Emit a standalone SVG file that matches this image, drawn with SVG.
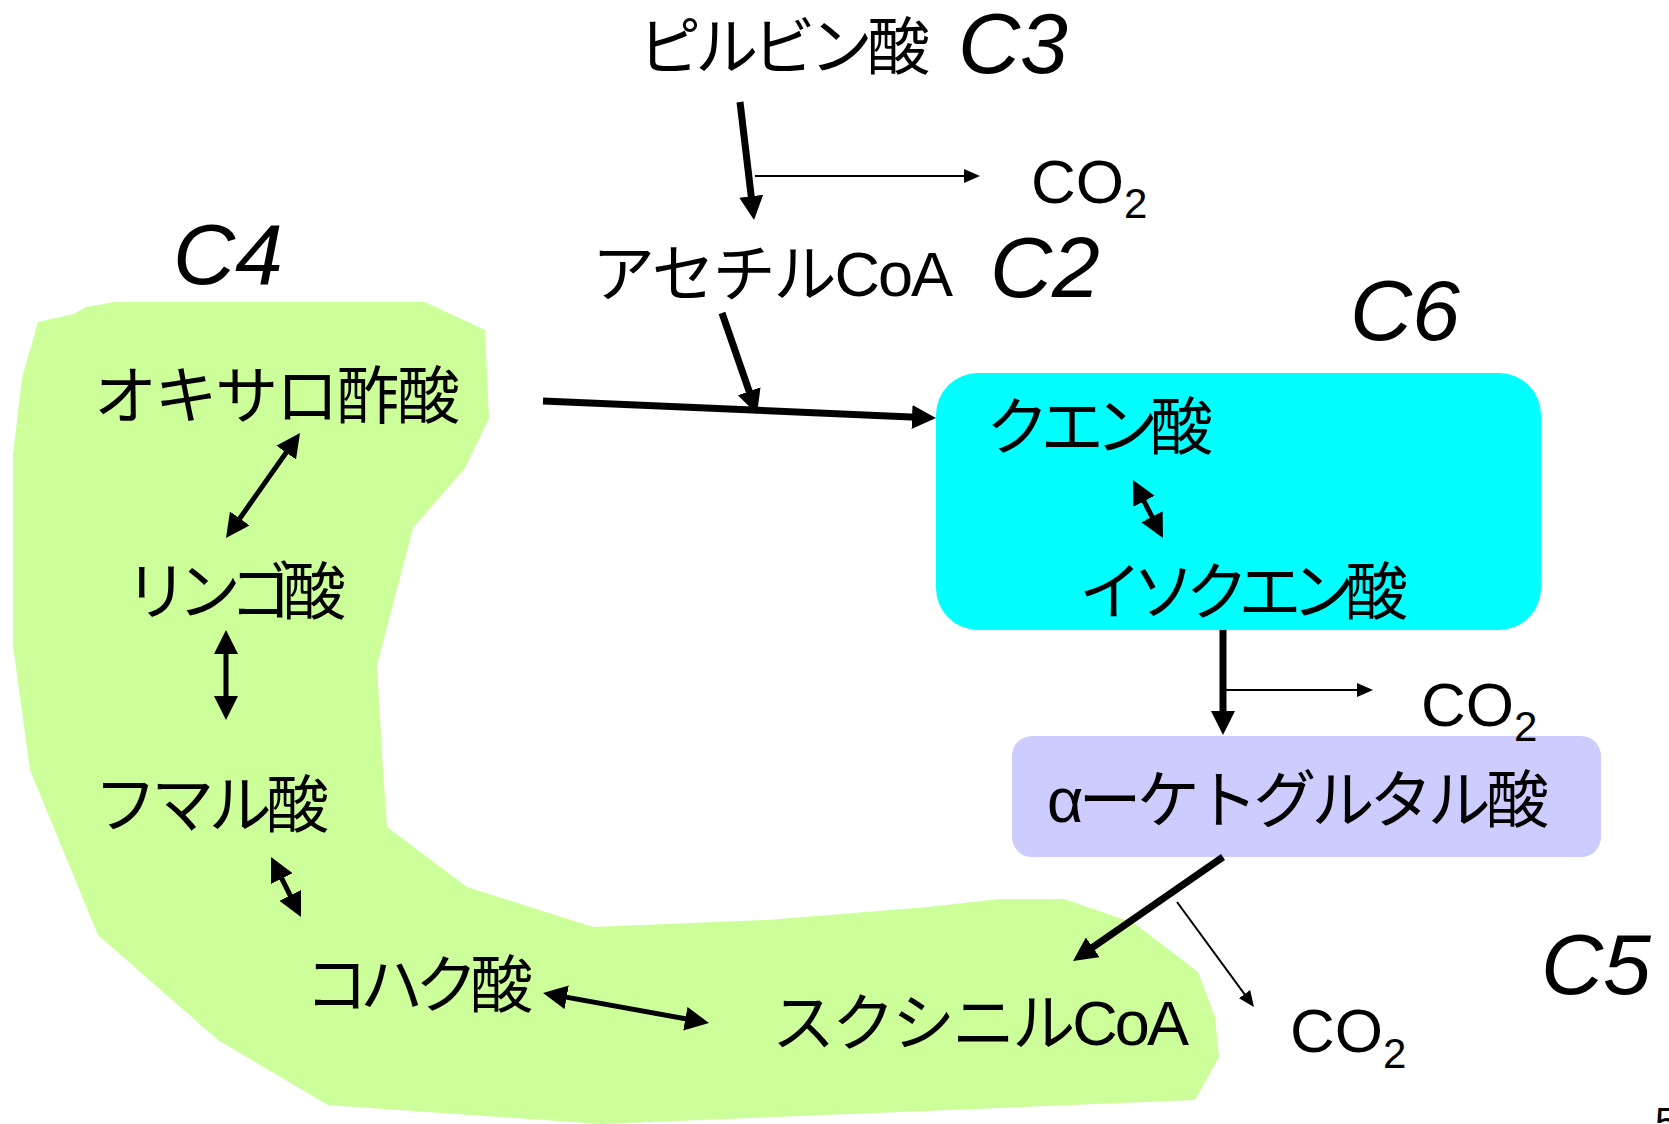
<svg xmlns="http://www.w3.org/2000/svg" width="1669" height="1124" viewBox="0 0 1669 1124">
<defs>
<style>
.jp{font-family:"Liberation Sans","Noto Sans CJK JP",sans-serif;font-size:63px;fill:#000}
.cl{font-family:"Liberation Sans",Arial,sans-serif;font-style:italic;font-size:86px;fill:#000}
.co{font-family:"Liberation Sans",Arial,sans-serif;font-size:62px;fill:#000}
.thick{stroke:#000;stroke-width:7;fill:none}
.mid{stroke:#000;stroke-width:5;fill:none}
.thin{stroke:#000;stroke-width:2;fill:none}
</style>
<marker id="ah" markerUnits="userSpaceOnUse" markerWidth="24" markerHeight="24" refX="16" refY="12" orient="auto-start-reverse" viewBox="0 0 24 24"><path d="M0,0 L24,12 L0,24 Z" fill="#000"/></marker>
<marker id="ahs" markerUnits="userSpaceOnUse" markerWidth="16" markerHeight="14" refX="13" refY="7" orient="auto" viewBox="0 0 16 14"><path d="M0,0 L16,7 L0,14 Z" fill="#000"/></marker>
</defs>
<rect width="1669" height="1124" fill="#fff"/>
<g id="c4-region">
<polygon points="38,322 74,314 86,307 115,302 425,302 485,330 489,418 465,468 413,528 377,665 383,770 387,827 467,887 593,927 767,920 927,907 1000,899 1064,899 1134,923 1198,972 1215,1017 1219,1057 1195,1100 601,1124 328,1105 218,1040 98,935 30,770 13,645 13,455 22,378" fill="#CCFF99"/>
</g>
<g id="c6-box"><rect x="936" y="373" width="605" height="257" rx="42" fill="#00FFFF"/></g>
<g id="c5-box"><rect x="1012" y="736" width="589" height="121" rx="20" fill="#CCCCFF"/></g>
<g id="connectors">
<line class="thick" x1="740" y1="102" x2="753.1" y2="212.1" marker-end="url(#ah)"/>
<line class="thin" x1="755" y1="176" x2="977" y2="176" marker-end="url(#ahs)"/>
<line class="thick" x1="722" y1="313" x2="754.4" y2="406.4" marker-end="url(#ah)"/>
<line class="thick" x1="543" y1="401" x2="928" y2="417.7" marker-end="url(#ah)"/>
<line class="mid" x1="1136.7" y1="487.1" x2="1159.3" y2="530.9" marker-start="url(#ah)" marker-end="url(#ah)"/>
<line class="thick" x1="1223" y1="630" x2="1223" y2="727" marker-end="url(#ah)"/>
<line class="thin" x1="1223" y1="690" x2="1370" y2="690" marker-end="url(#ahs)"/>
<line class="thick" x1="1223" y1="857" x2="1079.6" y2="956.4" marker-end="url(#ah)"/>
<line class="thin" x1="1177" y1="902" x2="1252.2" y2="1004.6" marker-end="url(#ahs)"/>
<line class="mid" x1="550.9" y1="994.4" x2="701.1" y2="1021.6" marker-start="url(#ah)" marker-end="url(#ah)"/>
<line class="mid" x1="274.6" y1="864.2" x2="297.4" y2="909.8" marker-start="url(#ah)" marker-end="url(#ah)"/>
<line class="mid" x1="226" y1="638" x2="226" y2="712" marker-start="url(#ah)" marker-end="url(#ah)"/>
<line class="mid" x1="295.4" y1="439.5" x2="230.6" y2="531.5" marker-start="url(#ah)" marker-end="url(#ah)"/>
</g>
<g id="pyruvate"><text class="jp" x="638" y="69" textLength="292" lengthAdjust="spacing">ピルビン酸</text><text class="cl" x="958" y="73">C3</text></g>
<g id="co2-1"><text class="co" x="1031" y="203">CO<tspan font-size="42" dy="15">2</tspan></text></g>
<g id="acetylcoa"><text class="jp" x="592" y="296" textLength="361" lengthAdjust="spacing">アセチルCoA</text><text class="cl" x="990" y="297">C2</text></g>
<g id="label-c4"><text class="cl" x="173" y="284">C4</text></g>
<g id="label-c6"><text class="cl" x="1350" y="340">C6</text></g>
<g id="oxaloacetate"><text class="jp" x="94" y="418" textLength="366" lengthAdjust="spacing">オキサロ酢酸</text></g>
<g id="malate"><text class="jp" x="125" y="614" textLength="221" lengthAdjust="spacing">リンゴ酸</text></g>
<g id="fumarate"><text class="jp" x="94" y="827" textLength="235" lengthAdjust="spacing">フマル酸</text></g>
<g id="succinate"><text class="jp" x="305" y="1007" textLength="228" lengthAdjust="spacing">コハク酸</text></g>
<g id="succinylcoa"><text class="jp" x="772" y="1045" textLength="417" lengthAdjust="spacing">スクシニルCoA</text></g>
<g id="citrate"><text class="jp" x="986" y="449" textLength="227" lengthAdjust="spacing">クエン酸</text></g>
<g id="isocitrate"><text class="jp" x="1079" y="614" textLength="329" lengthAdjust="spacing">イソクエン酸</text></g>
<g id="akg"><text class="jp" x="1047" y="822" textLength="502" lengthAdjust="spacing">αーケトグルタル酸</text></g>
<g id="co2-2"><text class="co" x="1421" y="726">CO<tspan font-size="42" dy="15">2</tspan></text></g>
<g id="co2-3"><text class="co" x="1290" y="1052">CO<tspan font-size="42" dy="16">2</tspan></text></g>
<g id="label-c5"><text class="cl" x="1541" y="994">C5</text></g>
<g id="page"><text class="co" x="1655" y="1136" style="font-size:40px">5</text></g>
</svg>
